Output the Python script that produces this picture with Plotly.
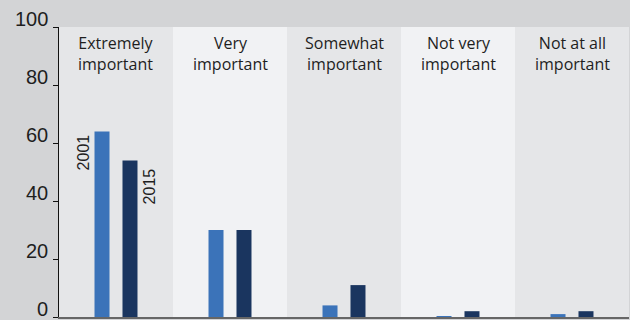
import plotly.graph_objects as go

categories = ["Extremely<br>important", "Very<br>important", "Somewhat<br>important",
              "Not very<br>important", "Not at all<br>important"]
years = ["2001", "2015"]
values_2001 = [64, 30, 4, 0.3, 1]
values_2015 = [54, 30, 11, 2, 2]
y_ticks = [0, 20, 40, 60, 80, 100]

colors = {"2001": "#3b73b9", "2015": "#1a355f"}
panel_colors = ["#e5e6e8", "#f1f2f4"]

fig = go.Figure()
for yr, vals in zip(years, [values_2001, values_2015]):
    fig.add_trace(go.Bar(x=categories, y=vals, name=yr, marker_color=colors[yr],
                         marker_line_width=0, showlegend=False))

shapes = []
for i, c in enumerate(categories):
    shapes.append(dict(type="rect", xref="x", yref="paper", x0=i - 0.5, x1=i + 0.5,
                       y0=0, y1=1, fillcolor=panel_colors[i % 2], line_width=0, layer="below"))

annotations = []
for c in categories:
    annotations.append(dict(x=c, y=100, xref="x", yref="y", text=c, showarrow=False,
                            yanchor="top", yshift=-3,
                            font=dict(family="Open Sans", size=16, color="#1e1e1e")))

# y tick labels, sitting just above each tick
for t in y_ticks:
    annotations.append(dict(x=0, y=t, xref="paper", yref="y", text=str(t), showarrow=False,
                            xanchor="right", yanchor="bottom", xshift=-9, yshift=-5,
                            font=dict(family="Liberation Sans", size=20, color="#1e1e1e")))

# year labels beside first group of bars
annotations.append(dict(x=categories[0], y=values_2001[0], xref="x", yref="y", text=years[0],
                        textangle=-90, showarrow=False, xanchor="center", yanchor="top",
                        xshift=-33, yshift=-1,
                        font=dict(family="Liberation Sans", size=16, color="#1e1e1e")))
annotations.append(dict(x=categories[0], y=values_2015[0], xref="x", yref="y", text=years[1],
                        textangle=-90, showarrow=False, xanchor="center", yanchor="top",
                        xshift=33, yshift=-6,
                        font=dict(family="Liberation Sans", size=16, color="#1e1e1e")))

fig.update_layout(
    width=630, height=320,
    margin=dict(l=59, r=1, t=27, b=3),
    paper_bgcolor="#d3d4d6",
    plot_bgcolor="#e5e6e8",
    barmode="group",
    bargap=0.509,
    bargroupgap=0.464,
    shapes=shapes,
    annotations=annotations,
    xaxis=dict(showticklabels=False, ticks="", showline=True, linecolor="#666666",
               linewidth=2, showgrid=False, zeroline=False),
    yaxis=dict(range=[0, 100], tickvals=y_ticks, ticks="outside", ticklen=5,
               tickcolor="#111", tickwidth=1, showline=True, linecolor="#111", linewidth=1,
               showgrid=False, zeroline=False, showticklabels=False),
)

fig.write_html("out.html")
